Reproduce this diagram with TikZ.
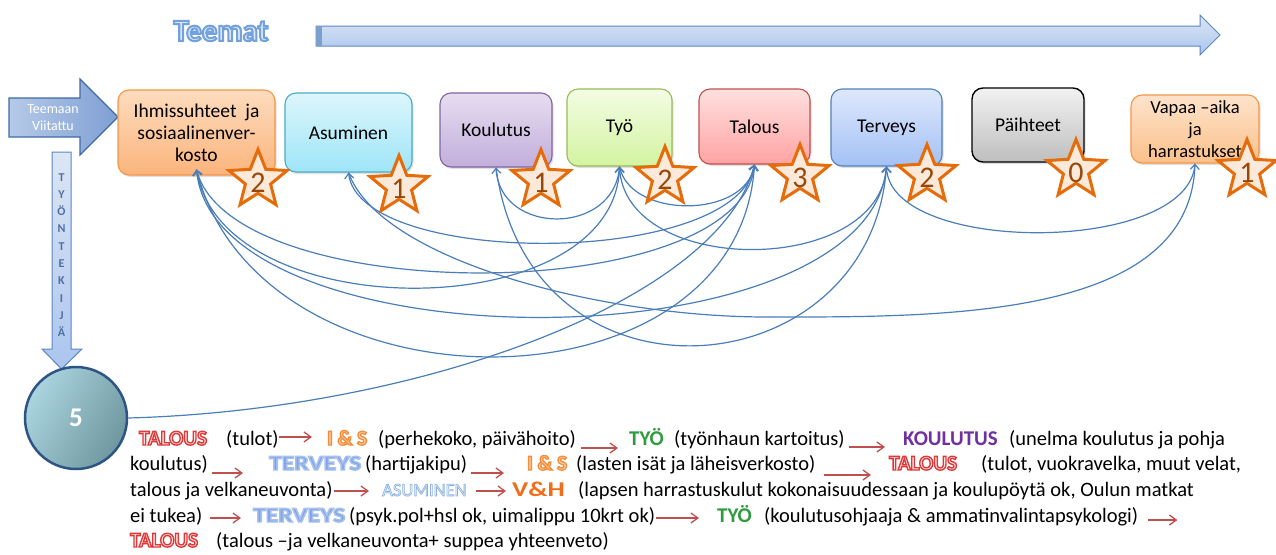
\documentclass[tikz,border=0pt]{standalone}
\usepackage{fontspec}
\setmainfont{Carlito}
\newfontfamily\wafont[RawFeature={embolden=4}]{Carlito}
\newfontfamily\wbfont[RawFeature={embolden=6.5}]{Carlito}
\usetikzlibrary{shapes.geometric,arrows.meta,shadows,calc}
\definecolor{cblue}{HTML}{4A7EBB}
\definecolor{rarr}{HTML}{C0504D}
\definecolor{starO}{HTML}{E46C0A}
\definecolor{starF}{HTML}{FDE9D9}
\definecolor{starT}{HTML}{984807}
\definecolor{vhC}{HTML}{F26D1A}
\definecolor{tyoC}{HTML}{2E9C3E}
\definecolor{kouC}{HTML}{7030A0}
\definecolor{isT}{HTML}{FDDCBE}\definecolor{isB}{HTML}{FBB47C}\definecolor{isD}{HTML}{F79646}
\definecolor{asT}{HTML}{DDF6FC}\definecolor{asB}{HTML}{9EE5F8}\definecolor{asD}{HTML}{4BACC6}
\definecolor{koT}{HTML}{E6DDF0}\definecolor{koB}{HTML}{C2AEDB}\definecolor{koD}{HTML}{8064A2}
\definecolor{tyT}{HTML}{F3FCE4}\definecolor{tyB}{HTML}{D3F4A0}\definecolor{tyD}{HTML}{9BBB59}
\definecolor{taT}{HTML}{FFE0E0}\definecolor{taB}{HTML}{FFA3A3}\definecolor{taD}{HTML}{C0504D}
\definecolor{teT}{HTML}{DEE8FC}\definecolor{teB}{HTML}{A3C1F5}\definecolor{teD}{HTML}{4F81BD}
\definecolor{paT}{HTML}{F2F2F2}\definecolor{paB}{HTML}{BEBEBE}\definecolor{paD}{HTML}{000000}
\definecolor{vaT}{HTML}{FDE3CB}\definecolor{vaB}{HTML}{FBC08A}\definecolor{vaD}{HTML}{F79646}
\definecolor{cL}{HTML}{AAD4DF}\definecolor{cR}{HTML}{6F979F}\definecolor{cD}{HTML}{2E5486}
\definecolor{arrT}{HTML}{DCE6F4}\definecolor{arrB}{HTML}{ABC5EE}\definecolor{arrD}{HTML}{5B87C2}
\definecolor{laL}{HTML}{B5CAE8}\definecolor{laR}{HTML}{7F9FD3}\definecolor{laD}{HTML}{3F6AA5}
\definecolor{tyk}{HTML}{4E6FA2}

% outlined (WordArt-like) text: fill colour, stroke colour, text
\newcommand{\outl}[3]{{\wafont\special{pdf:bcolor [#1] [#2]}#3\special{pdf:ecolor}}}
\newcommand{\outlb}[3]{{\wbfont\special{pdf:bcolor [#1] [#2]}#3\special{pdf:ecolor}}}
\newcommand{\wTal}{\outlb{0.99 0.88 0.88}{0.88 0.22 0.22}{TALOUS}}
\newcommand{\wIS}{\outlb{0.99 0.85 0.72}{0.97 0.55 0.22}{I \& S}}
\newcommand{\wTer}{\scalebox{1.22}[1]{\outlb{0.50 0.64 0.90}{0.66 0.76 0.94}{TERVEYS}}}
\newcommand{\wAsu}{\outl{1 1 1}{0.55 0.70 0.89}{ASUMINEN}}
\newcommand{\wVH}{\scalebox{1.3}[1]{\textcolor{vhC}{V\&H}}}
\newcommand{\wTyo}{\textcolor{tyoC}{TYÖ}}
\newcommand{\wKou}{\textcolor{kouC}{KOULUTUS}}

\begin{document}
\begin{tikzpicture}[x=1pt,y=-1pt,
  box/.style={draw, rounded corners=11pt, line width=1.1pt, align=center,
    font=\fontsize{19.5}{22}\selectfont, inner sep=2pt,
    drop shadow={opacity=0.25, shadow xshift=1.5pt, shadow yshift=-2pt}},
  link/.style={draw=cblue, line width=1.2pt, -{Straight Barb[length=5pt,width=9pt]}},
  stargl/.style={star, star points=5, star point ratio=2.3, minimum size=61pt, inner sep=0pt, draw=starO, fill=starF, line width=3pt},
  starnum/.style={font=\fontsize{30}{30}\selectfont, text=starT, inner sep=0pt},
  txt/.style={anchor=base west, inner sep=0pt, font=\fontsize{20.5}{24}\selectfont},
  wtxt/.style={anchor=base west, inner sep=0pt, font=\fontsize{21}{24}\selectfont\bfseries},
  redarr/.style={draw=rarr, line width=1.3pt, -{Straight Barb[length=7pt,width=10pt]}},
]
\fill[white] (0,0) rectangle (1276,554);
\useasboundingbox (0,0) rectangle (1276,554);

% title and big arrow
\node[font=\fontsize{31}{31}\selectfont\bfseries, inner sep=0pt] (teemat) at (221,31) {\outlb{0.86 0.91 0.98}{0.45 0.63 0.87}{Teemat}};
\path[top color=arrT, bottom color=arrB, draw=arrD, line width=1pt]
  (316,26) -- (1200,26) -- (1200,15) -- (1220,35) -- (1200,55) -- (1200,46) -- (316,46) -- cycle;
\fill[arrD!80] (316,26) rectangle (322,46);

% left arrow
\path[left color=laL, right color=laR, draw=laD, line width=1.1pt]
  (9,98) -- (80,98) -- (80,79) -- (118,117) -- (80,155) -- (80,137) -- (9,137) -- cycle;
\node[align=center, text=white, font=\fontsize{14}{17}\selectfont, inner sep=0pt] (tv) at (53,118) {Teemaan\\Viitattu};

% down arrow
\path[top color=arrT, bottom color=arrB, draw=arrD, line width=1pt]
  (52,152) -- (71,152) -- (71,349) -- (82,349) -- (61.5,369) -- (42,349) -- (52,349) -- cycle;
\node[align=center, text=tyk, font=\fontsize{12}{17.3}\selectfont\bfseries, inner sep=0pt] (tyontekija) at (61.5,255) {T\\Y\\Ö\\N\\T\\E\\K\\I\\J\\Ä};

% circle
\node[circle, minimum size=102pt, inner sep=0pt, left color=cL, right color=cR, shading angle=60, draw=cD, line width=2.5pt,
  font=\fontsize{27}{27}\selectfont\bfseries, text=white] (c5) at (76,418) {5};

% boxes
\node[box, minimum width=157pt, minimum height=85pt, top color=isT, bottom color=isB, draw=isD] (is) at (196.5,132.5) {Ihmissuhteet\ \ ja\\sosiaalinenver-\\kosto};
\node[box, minimum width=127pt, minimum height=79pt, top color=asT, bottom color=asB, draw=asD] (as) at (348.5,132.5) {Asuminen};
\node[box, minimum width=112pt, minimum height=74pt, top color=koT, bottom color=koB, draw=koD] (ko) at (496,130) {Koulutus};
\node[box, minimum width=105pt, minimum height=77pt, top color=tyT, bottom color=tyB, draw=tyD] (ty) at (619.5,127.5) {Työ};
\node[box, minimum width=111pt, minimum height=75pt, top color=taT, bottom color=taB, draw=taD] (ta) at (754.5,126.5) {Talous};
\node[box, minimum width=111pt, minimum height=77pt, top color=teT, bottom color=teB, draw=teD] (te) at (886.5,127.5) {Terveys};
\node[box, minimum width=112pt, minimum height=74pt, top color=paT, bottom color=paB, draw=paD, line width=1.4pt] (pa) at (1028,125) {Päihteet};
\node[box, minimum width=128pt, minimum height=68pt, top color=vaT, bottom color=vaB, draw=vaD, font=\fontsize{18.5}{22}\selectfont] (va) at (1195,129) {Vapaa –aika\\ja\\harrastukset};

\coordinate (isp) at ([yshift=6pt]is.south);
\coordinate (asp) at (as.south);
\coordinate (kop) at (ko.south);
\coordinate (typ) at (ty.south);
\coordinate (tap) at (ta.south);
\coordinate (tep) at (te.south);
\coordinate (vap) at (va.south);

% connectors
\draw[link] (c5.east) .. controls (420,410) and (720,300) .. (tap);
\draw[link] (tap) .. controls (740,420) and (260,420) .. (isp);
\draw[link] (isp) .. controls (220,328) and (615,328) .. (typ);
\draw[link] (typ) .. controls (615,236) and (500,236) .. (kop);
\draw[link] (kop) .. controls (530,420) and (870,390) .. (tep);
\draw[link] (tep) .. controls (870,367) and (215,367) .. (isp);
\draw[link] (isp) .. controls (230,308) and (740,308) .. (tap);
\draw[link] (tap) .. controls (740,268) and (360,268) .. (asp);
\draw[link] (asp) .. controls (380,260) and (600,317) .. (767,317) .. controls (940,317) and (1190,320) .. (vap);
\draw[link] (vap) .. controls (1190,255) and (890,255) .. (tep);
\draw[link] (tep) .. controls (880,277) and (625,277) .. (typ);
\draw[link] (typ) .. controls (630,219) and (745,219) .. (tap);

% stars
\node[stargl] (st1) at (258,180) {}; \node[starnum] (sn1) at (258,183) {2};
\node[stargl] (st2) at (399,186) {}; \node[starnum] (sn2) at (399,189) {1};
\node[stargl] (st3) at (541,180) {}; \node[starnum] (sn3) at (541,183) {1};
\node[stargl] (st4) at (665,177) {}; \node[starnum] (sn4) at (665,180) {2};
\node[stargl] (st5) at (800,175) {}; \node[starnum] (sn5) at (800,178) {3};
\node[stargl] (st6) at (927,175) {}; \node[starnum] (sn6) at (927,178) {2};
\node[stargl] (st7) at (1076,170) {}; \node[starnum] (sn7) at (1076,173) {0};
\node[stargl] (st8) at (1247,170) {}; \node[starnum] (sn8) at (1247,173) {1};

% bottom text
\node[wtxt] (n11) at (139,445) {\wTal};
\node[txt]  (n12) at (226,445) {(tulot)};
\node[wtxt] (n13) at (327,445) {\wIS};
\node[txt]  (n14) at (378,445) {(perhekoko, päivähoito)};
\node[wtxt] (n15) at (629,445) {\wTyo};
\node[txt]  (n16) at (674,445) {(työnhaun kartoitus)};
\node[wtxt] (n17) at (903,445) {\wKou};
\node[txt]  (n18) at (1009,445) {(unelma koulutus ja pohja};

\node[txt]  (n21) at (130,470) {koulutus)};
\node[wtxt] (n22) at (269,470) {\wTer};
\node[txt]  (n23) at (365,470) {(hartijakipu)};
\node[wtxt] (n24) at (527,470) {\wIS};
\node[txt]  (n25) at (576,470) {(lasten isät ja läheisverkosto)};
\node[wtxt] (n26) at (889,470) {\wTal};
\node[txt]  (n27) at (981,470) {(tulot, vuokravelka, muut velat,};

\node[txt]  (n31) at (130,496) {talous ja velkaneuvonta)};
\node[wtxt, font=\fontsize{18.5}{24}\selectfont] (n32) at (382,496) {\wAsu};
\node[wtxt] (n33) at (512,496) {\wVH};
\node[txt]  (n34) at (578,496) {(lapsen harrastuskulut kokonaisuudessaan ja koulupöytä ok, Oulun matkat};

\node[txt]  (n41) at (130,522) {ei tukea)};
\node[wtxt] (n42) at (253,522) {\wTer};
\node[txt]  (n43) at (349,522) {(psyk.pol+hsl ok, uimalippu 10krt ok)};
\node[wtxt] (n44) at (717,522) {\wTyo};
\node[txt]  (n45) at (764,522) {(koulutusohjaaja \& ammatinvalintapsykologi)};

\node[wtxt] (n51) at (130,547) {\wTal};
\node[txt]  (n52) at (216,547) {(talous –ja velkaneuvonta+ suppea yhteenveto)};

% red arrows
\draw[redarr] ($(n12.base east)+(0,-8)$) -- ($(n13.base west)+(-15,-8)$);
\draw[redarr] ($(n14.base east)+(5,3)$) -- ($(n15.base west)+(-11,3)$);
\draw[redarr] ($(n16.base east)+(4,2)$) -- ($(n17.base west)+(-18,2)$);
\draw[redarr] ($(n21.base east)+(4,3)$) -- ($(n22.base west)+(-26,3)$);
\draw[redarr] ($(n23.base east)+(4,3)$) -- ($(n24.base west)+(-23,3)$);
\draw[redarr] ($(n25.base east)+(8,5)$) -- ($(n26.base west)+(-18,5)$);
\draw[redarr] ($(n31.base east)+(1,-5)$) -- ($(n32.base west)+(-13,-5)$);
\draw[redarr] ($(n32.base east)+(9,-5)$) -- ($(n33.base west)+(-6,-5)$);
\draw[redarr] ($(n41.base east)+(8,-4)$) -- ($(n42.base west)+(-12,-4)$);
\draw[redarr] ($(n43.base east)+(1,-4)$) -- ($(n44.base west)+(-18,-4)$);
\draw[redarr] ($(n45.base east)+(10,-2)$) -- ++(29,0);
\end{tikzpicture}
\end{document}
